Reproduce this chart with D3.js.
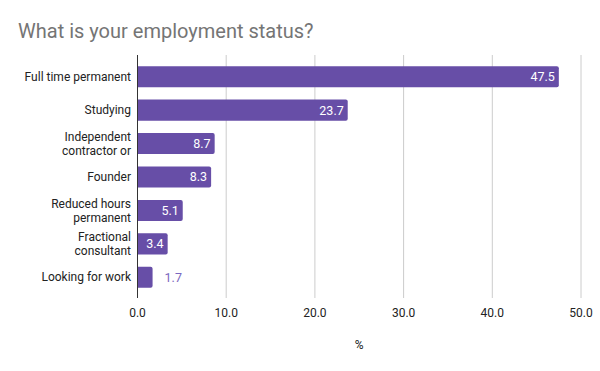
<!DOCTYPE html>
<html>
<head>
<meta charset="utf-8">
<script src="https://cdn.jsdelivr.net/npm/d3@7"></script>
<style>
  body { margin: 0; background: #fff; }
  text { font-family: Roboto, "Liberation Sans", Arial, sans-serif; }
</style>
</head>
<body>
<script>
// chart data
var categories = ["Full time permanent", "Studying", "Independent\ncontractor or", "Founder",
    "Reduced hours\npermanent", "Fractional\nconsultant", "Looking for work"];
var values = [47.5, 23.7, 8.7, 8.3, 5.1, 3.4, 1.7];
var xTicks = [0, 10, 20, 30, 40, 50];

var width = 600, height = 371;
var plotLeft = 137.5, plotRight = 581, plotTop = 60, plotBottom = 294;
var barColor = "#674ea7";

var svg = d3.select("body").append("svg")
    .attr("width", width)
    .attr("height", height);

svg.append("rect").attr("width", width).attr("height", height).attr("fill", "#fff");

// title
svg.append("text")
    .text("What is your employment status?")
    .attr("x", 18)
    .attr("y", 38)
    .attr("font-size", 20)
    .attr("fill", "#757575");

var x = d3.scaleLinear().domain([0, 50]).range([plotLeft, plotRight]);
var y = d3.scaleBand().domain(categories).range([plotTop, plotBottom]).paddingInner(0.37).paddingOuter(0.185);

//grid lines
svg.append("g").selectAll("line").data(xTicks.slice(1)).enter().append("line")
    .attr("x1", function(d) { return x(d); })
    .attr("x2", function(d) { return x(d); })
    .attr("y1", 55)
    .attr("y2", 298)
    .attr("stroke", "#cccccc")
    .attr("stroke-width", 1);

// bars, rounded at the right end only
var data = categories.map(function(c, i) { return {cat: c, v: values[i]}; });
var r = 2;
svg.append("g").selectAll("path").data(data).enter().append("path")
    .attr("d", function(d) {
        var x0 = x(0), x1 = x(d.v), y0 = y(d.cat), h = y.bandwidth();
        return "M" + x0 + "," + y0 +
            "H" + (x1 - r) + "Q" + x1 + "," + y0 + " " + x1 + "," + (y0 + r) +
            "V" + (y0 + h - r) + "Q" + x1 + "," + (y0 + h) + " " + (x1 - r) + "," + (y0 + h) +
            "H" + x0 + "Z";
    })
    .attr("fill", barColor);

// value labels
svg.append("g").selectAll("text").data(data).enter().append("text")
    .text(function(d) { return d.v.toFixed(1); })
    .attr("x", function(d) { return d.v > 3 ? x(d.v) - 4 : x(d.v) + 12; })
    .attr("y", function(d) { return y(d.cat) + y.bandwidth() / 2; })
    .attr("dy", "0.35em")
    .attr("text-anchor", function(d) { return d.v > 3 ? "end" : "start"; })
    .attr("font-size", 12.5)
    .attr("fill", function(d) { return d.v > 3 ? "#ffffff" : "#7b68c0"; });

// category labels
var labels = svg.append("g").selectAll("text").data(categories).enter().append("text")
    .attr("text-anchor", "end")
    .attr("font-size", 12)
    .attr("fill", "#222222")
    .attr("y", function(d) { return y(d) + y.bandwidth() / 2; });
labels.each(function(d) {
    var lines = d.split("\n");
    var t = d3.select(this);
    lines.forEach(function(line, i) {
        t.append("tspan")
            .attr("x", 131)
            .attr("dy", i == 0 ? (0.35 - (lines.length - 1) * 0.58) + "em" : "1.16em")
            .text(line);
    });
});

// vertical axis line
svg.append("line")
    .attr("x1", x(0)).attr("x2", x(0))
    .attr("y1", 55).attr("y2", 298)
    .attr("stroke", "#333333")
    .attr("stroke-width", 1);

// x tick labels
svg.append("g").selectAll("text").data(xTicks).enter().append("text")
    .text(function(d) { return d.toFixed(1); })
    .attr("x", function(d) { return x(d); })
    .attr("y", 317)
    .attr("text-anchor", "middle")
    .attr("font-size", 12)
    .attr("fill", "#222222");

// axis title
svg.append("text")
    .text("%")
    .attr("x", (plotLeft + plotRight) / 2)
    .attr("y", 349)
    .attr("text-anchor", "middle")
    .attr("font-size", 12)
    .attr("fill", "#222222");
</script>
</body>
</html>
